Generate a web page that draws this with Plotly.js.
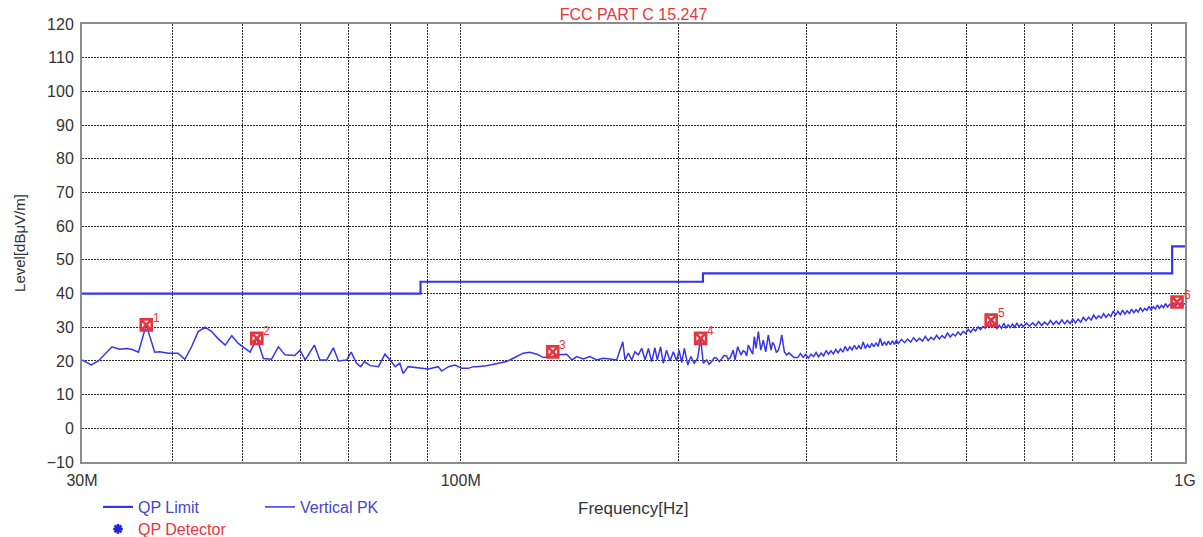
<!DOCTYPE html>
<html>
<head>
<meta charset="utf-8">
<script src="https://cdn.plot.ly/plotly-3.0.1.min.js"></script>
<style>html,body{margin:0;padding:0;background:#fff;}#chart{width:1203px;height:537px;}</style>
</head>
<body>
<div id="chart"></div>
<script>
// ---- Data (frequency in MHz, level in dBuV/m) ----
const limitFreq  = [30, 88, 216, 960, 1000];
const limitLevel = [40, 43.5, 46, 54, 54];

const pkFreq = [
  30.0, 30.2, 30.9, 31.6, 33.0, 33.8, 34.6, 35.2, 35.9, 36.8, 37.8, 38.4, 39.5, 40.7, 41.6, 42.5, 43.4, 44.4, 45.3, 46.2,
  47.3, 48.3, 49.3, 51.2, 52.3, 53.4, 54.8, 56.0, 57.2, 59.0, 60.0, 61.0, 62.8, 63.9, 65.3, 66.7, 67.8, 69.6, 70.6, 71.8,
  72.8, 73.6, 75.0, 77.0, 78.6, 79.9, 81.2, 82.4, 83.3, 84.6, 87.4, 90.2, 93.1, 94.1, 96.2, 98.2, 100.3, 102.4, 104.1,
  105.2, 108.6, 112.1, 115.7, 118.2, 122.0, 124.6, 127.4, 130.1, 133.6, 136.4, 140.1, 142.4, 144.6, 147.6, 150.8, 154.1, 157.3, 160.7, 164.2,
  165.9, 167.4, 168.6, 170.4, 172.2, 174.0, 175.9, 177.8, 179.7, 181.6, 183.5, 185.4, 186.8, 188.8, 190.4, 192.4, 194.5, 196.6, 198.7, 200.2,
  201.9, 203.6, 205.8, 207.9, 210.1, 212.4, 214.4, 216.2, 218.6, 220.3, 222.1, 224.0, 225.6, 227.5, 229.2, 231.0, 232.9, 234.0, 235.4, 237.8,
  239.2, 241.2, 243.8, 245.5, 246.9, 248.2, 249.5, 251.7, 253.0, 254.3, 255.7, 257.6, 259.6, 261.7, 263.7, 265.9, 268.2, 269.5, 271.0, 272.8,
  274.5, 276.0, 277.5, 279.8, 281.9, 284.0, 286.4, 288.5,
  292, 294.5, 297, 299.5, 302, 304.5, 307, 309.5, 312, 314.5, 317, 319.5, 322, 324.5, 327, 329.5, 332, 334.5, 337, 339.5, 342, 344.5,
  347, 349.5, 352, 354.5, 357, 359.5, 362, 364.5, 367, 369.5, 372, 374.5, 377, 379.5, 382, 384.5, 387, 389.5, 392, 394.5, 397, 399.5,
  402, 406, 410, 414, 418, 422, 426, 430, 434, 438, 442, 446, 450, 454, 458, 462, 466, 470, 474, 478, 482, 486, 490, 494, 498,
  502, 506, 510, 514, 518, 522, 526, 530, 534, 538, 542, 546, 550, 554, 558, 562, 566, 570, 574, 578, 582, 586, 590, 594, 598,
  604, 610, 616, 622, 628, 634, 640, 646, 652, 658, 664, 670, 676, 682, 688, 694, 700, 706, 712, 718, 724, 730, 736, 742, 748, 754,
  760, 766, 772, 778, 784, 790, 796, 802, 808, 814, 820, 826, 832, 838, 844, 850, 856, 862, 868, 874, 880, 886, 892, 898, 904, 910,
  916, 922, 928, 934, 940, 946, 952, 958, 964, 970, 976, 982, 988, 994, 1000
];
const pkLevel = [
  20.3, 20.0, 18.8, 20.0, 24.2, 23.5, 23.7, 23.4, 22.6, 30.7, 22.6, 22.7, 22.3, 22.3, 20.5, 24.2, 28.7, 30.0, 28.7, 26.7,
  24.7, 27.5, 25.2, 22.6, 26.7, 20.7, 20.5, 24.2, 21.8, 21.6, 23.2, 20.3, 24.7, 20.3, 20.3, 23.9, 20.0, 20.3, 22.6, 19.3,
  18.3, 19.8, 18.6, 18.3, 22.0, 20.3, 18.3, 19.3, 16.3, 18.3, 18.0, 17.6, 18.3, 17.0, 18.3, 18.8, 17.8, 17.8, 18.3,
  18.3, 18.6, 19.3, 19.8, 20.8, 22.3, 22.6, 22.0, 21.0, 21.3, 21.8, 22.0, 20.3, 21.3, 20.6, 21.3, 20.3, 20.8, 20.6, 20.3,
  23.2, 25.7, 20.3, 22.3, 20.3, 22.7, 21.8, 23.7, 20.3, 23.7, 19.8, 23.9, 20.3, 24.2, 19.3, 23.2, 20.0, 22.7, 20.0, 23.2,
  19.5, 23.7, 18.8, 21.3, 19.3, 20.8, 26.7, 19.3, 20.3, 19.0, 19.8, 21.0, 20.8, 19.8, 20.6, 21.6, 21.5, 20.5, 20.8, 23.2,
  20.3, 24.2, 21.8, 23.0, 22.7, 21.5, 24.7, 23.2, 22.0, 27.2, 23.7, 28.7, 23.2, 26.2, 22.7, 27.7, 23.2, 25.5, 24.7, 22.5,
  23.2, 25.0, 27.7, 22.7, 21.8, 22.4, 21.8, 21.0,
  21.0, 22.2, 21.1, 21.9, 20.8, 22.0, 21.3, 22.5, 21.2, 22.3, 21.5, 23.1, 22.0, 23.0, 22.1, 23.4, 22.4, 23.6, 22.6, 24.3, 23.0, 24.2,
  23.3, 24.6, 23.4, 24.5, 23.5, 25.6, 23.7, 24.9, 23.9, 25.2, 24.2, 25.4, 24.3, 26.7, 24.5, 25.7, 24.6, 25.9, 24.8, 26.0, 24.9, 26.1,
  25.2, 26.4, 25.4, 26.5, 25.6, 26.9, 25.8, 26.7, 25.9, 27.3, 26.0, 27.0, 26.3, 27.6, 26.5, 27.5, 26.8, 28.3, 27.1, 28.0, 27.4, 28.6, 27.7, 28.8, 28.1,
  29.4, 28.5, 29.5, 28.9, 30.1, 29.3, 30.2, 29.7, 30.9, 31.8, 30.0, 30.9, 29.6, 30.6, 29.7, 31.2, 29.8, 30.7, 29.9, 30.9, 30.0, 31.3, 30.1, 30.9, 30.2,
  31.2, 30.3, 31.3, 30.4, 31.7, 30.5, 31.5, 30.7, 32.0, 30.8, 31.8, 30.9, 32.2, 31.0, 32.0, 31.1, 32.5, 31.3, 32.4, 31.5, 32.9, 31.9, 33.0, 32.1, 33.6, 32.5,
  33.4, 32.7, 34.0, 32.9, 33.9, 33.2, 34.8, 33.6, 34.7, 33.7, 35.1, 33.9, 34.9, 34.1, 35.4, 34.3, 35.2, 34.5, 35.8, 34.7, 35.6, 35.0, 36.2, 35.1, 36.1, 35.4,
  36.6, 35.6, 36.5, 35.8, 37.0, 36.0, 36.8, 36.2, 37.3, 36.3, 37.1, 36.5, 37.4, 36.6, 37.1
];

const qpFreq   = [36.8, 52.3, 134.0, 214.4, 540, 975];
const qpLevel  = [30.7, 26.7, 22.7, 26.7, 32.1, 37.5];
const qpLabels = ['1', '2', '3', '4', '5', '6'];

const gridFreq   = [30, 40, 50, 60, 70, 80, 90, 100, 200, 300, 400, 500, 600, 700, 800, 900, 1000];
const gridLabels = ['30M', '', '', '', '', '', '', '100M', '', '', '', '', '', '', '', '', '1G'];

// ---- Styles ----
const FONT = 'Liberation Sans, Arial, sans-serif';
const BLUE = '#3535ee';
const RED = '#e8353d';
const TXT = '#333333';

const traces = [
  {
    x: limitFreq, y: limitLevel, type: 'scatter', mode: 'lines', name: 'QP Limit',
    line: {color: BLUE, width: 2.2, shape: 'hv'}, legend: 'legend', hoverinfo: 'skip'
  },
  {
    x: pkFreq, y: pkLevel, type: 'scatter', mode: 'lines', name: 'Vertical PK',
    line: {color: BLUE, width: 1.5}, legend: 'legend', hoverinfo: 'skip'
  },
  {
    x: qpFreq, y: qpLevel, type: 'scatter', mode: 'markers', name: 'QP Detector',
    marker: {symbol: 'square-x-open', size: 11, color: RED, line: {color: RED, width: 2.6}},
    cliponaxis: false, showlegend: false, hoverinfo: 'skip'
  },
  {
    x: [null], y: [null], type: 'scatter', mode: 'markers', name: 'QP Detector',
    marker: {symbol: 'asterisk-open', size: 8, color: '#2525d8', line: {color: '#2525d8', width: 2.5}},
    legend: 'legend2', hoverinfo: 'skip'
  }
];

const labelAnnotations = qpFreq.map((f, i) => ({
  x: Math.log10(f), y: qpLevel[i], xref: 'x', yref: 'y',
  text: qpLabels[i], showarrow: false, xshift: 10, yshift: 7,
  font: {family: FONT, size: 12, color: RED}
}));

const xTitleAnnotation = {
  text: 'Frequency[Hz]', xref: 'paper', yref: 'paper', x: 0.5, y: 0,
  xanchor: 'center', yanchor: 'middle', yshift: -46, showarrow: false,
  font: {family: FONT, size: 17, color: TXT}
};

const gridStyle = {
  showgrid: true, gridcolor: '#2a2a2a', gridwidth: 1, griddash: '2px,1px',
  showline: true, mirror: true, linecolor: '#8c8c8c', linewidth: 2,
  zeroline: false, ticks: ''
};

const layout = {
  width: 1203, height: 537,
  margin: {l: 82, r: 18, t: 24, b: 75, pad: 0},
  paper_bgcolor: '#ffffff', plot_bgcolor: '#ffffff',
  font: {family: FONT, color: TXT},
  title: {
    text: 'FCC PART C 15.247', font: {family: FONT, size: 16, color: RED},
    x: 0.5, xref: 'paper', xanchor: 'center', y: 1 - 14 / 537, yref: 'container', yanchor: 'middle'
  },
  xaxis: Object.assign({}, gridStyle, {
    type: 'log', range: [Math.log10(30), 3],
    tickmode: 'array', tickvals: gridFreq, ticktext: gridLabels,
    tickfont: {family: FONT, size: 16, color: TXT}, ticklabelstandoff: 3
  }),
  yaxis: Object.assign({}, gridStyle, {
    range: [-10, 120], tick0: 0, dtick: 10,
    tickfont: {family: FONT, size: 16, color: TXT}, ticklabelstandoff: 3,
    title: {text: 'Level[dBμV/m]', font: {family: FONT, size: 15, color: TXT}, standoff: 17}
  }),
  annotations: labelAnnotations.concat([xTitleAnnotation]),
  showlegend: true,
  legend: {
    orientation: 'h', xref: 'container', x: 98 / 1203, xanchor: 'left',
    yref: 'container', y: 1 - 490 / 537, yanchor: 'top',
    font: {family: FONT, size: 16, color: '#4646c8'},
    entrywidth: 117, entrywidthmode: 'pixels',
    bgcolor: 'rgba(0,0,0,0)', borderwidth: 0, traceorder: 'normal'
  },
  legend2: {
    orientation: 'h', xref: 'container', x: 98 / 1203, xanchor: 'left',
    yref: 'container', y: 1 - 512 / 537, yanchor: 'top',
    font: {family: FONT, size: 16, color: RED},
    bgcolor: 'rgba(0,0,0,0)', borderwidth: 0
  }
};

Plotly.newPlot('chart', traces, layout, {staticPlot: true, displayModeBar: false});
</script>
</body>
</html>
